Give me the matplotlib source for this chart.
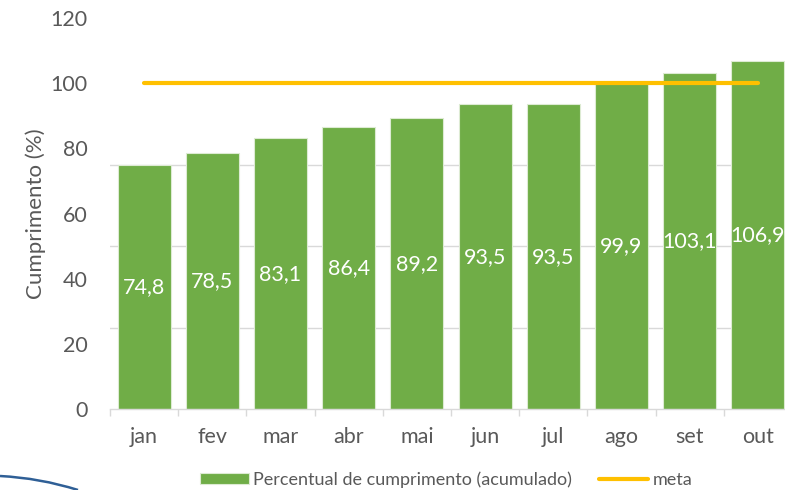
import matplotlib.pyplot as plt
from matplotlib.path import Path
from matplotlib.patches import PathPatch
from matplotlib.ticker import MultipleLocator, FixedLocator

meses = ["jan", "fev", "mar", "abr", "mai", "jun", "jul", "ago", "set", "out"]
cumprimento = [74.8, 78.5, 83.1, 86.4, 89.2, 93.5, 93.5, 99.9, 103.1, 106.9]
meta = [100] * len(meses)

plt.rcParams['font.family'] = ['Lato', 'DejaVu Sans']
cinza = '#595959'

fig = plt.figure(figsize=(7.85, 4.9), dpi=100)
ax = fig.add_axes([110 / 785, 81 / 490, 682 / 785, 391 / 490])

x = range(len(meses))
barras = ax.bar(x, cumprimento, width=0.78, color='#70AD47',
                edgecolor='#DDEBD3', linewidth=0.8, zorder=2,
                label='Percentual de cumprimento (acumulado)')
linha_meta, = ax.plot(x, meta, color='#FFC000', linewidth=3,
                      solid_capstyle='round', zorder=3, label='meta')

# rótulos no centro das barras
for i, v in enumerate(cumprimento):
    ax.text(i, v / 2, f"{v:.1f}".replace('.', ','), ha='center', va='center',
            color='white', fontsize=15.5, zorder=4)

ax.set_xlim(-0.5, len(meses) - 0.5)
ax.set_ylim(0, 120)
ax.yaxis.set_major_locator(MultipleLocator(20))
ax.yaxis.set_minor_locator(MultipleLocator(25))
ax.grid(False)
ax.grid(True, axis='y', which='minor', color='#D9D9D9', linewidth=1, zorder=0)
ax.tick_params(axis='y', which='both', length=0, labelsize=15.5,
               labelcolor=cinza, pad=16)

ax.set_xticks(list(x))
ax.set_xticklabels(meses)
ax.xaxis.set_minor_locator(FixedLocator([i - 0.5 for i in range(len(meses) + 1)]))
ax.tick_params(axis='x', which='major', length=0, labelsize=15.5,
               labelcolor=cinza, pad=13)
ax.tick_params(axis='x', which='minor', length=5, color='#D9D9D9', width=1)

for s in ['top', 'right', 'left']:
    ax.spines[s].set_visible(False)
ax.spines['bottom'].set_color('#D9D9D9')
ax.spines['bottom'].set_linewidth(1)

ax.set_ylabel('Cumprimento (%)', fontsize=16, color=cinza)
ax.yaxis.set_label_coords(-0.094, 0.5)

fig.legend([barras, linha_meta],
           ['Percentual de cumprimento (acumulado)', 'meta'],
           loc='center', bbox_to_anchor=(446 / 785, 1 - 480 / 490),
           ncol=2, frameon=False, fontsize=13, labelcolor=cinza,
           handlelength=2.7, handletextpad=0.25, columnspacing=1.5,
           handleheight=0.55)

# linha azul decorativa no canto
curva = Path([(0, 1 - 476 / 490), (40 / 785, 1 - 478 / 490), (78 / 785, 0)],
             [Path.MOVETO, Path.CURVE3, Path.CURVE3])
fig.add_artist(PathPatch(curva, transform=fig.transFigure, fill=False,
                         edgecolor='#2F5F96', linewidth=1.8))

plt.savefig("out.png", dpi=100)
